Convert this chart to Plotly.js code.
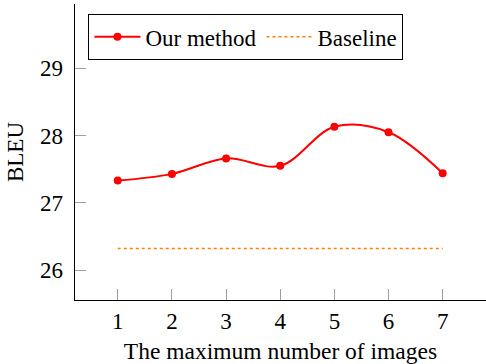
<!DOCTYPE html>
<html>
<head>
<meta charset="utf-8">
<script src="https://cdn.plot.ly/plotly-3.0.1.min.js"></script>
<style>html,body{margin:0;padding:0;background:#fff;}#chart{width:486px;height:364px;}</style>
</head>
<body>
<div id="chart"></div>
<script>
const imageCounts = [1, 2, 3, 4, 5, 6, 7];
const ourMethod = [27.33, 27.43, 27.66, 27.55, 28.13, 28.05, 27.44];
const baseline = [26.32, 26.32, 26.32, 26.32, 26.32, 26.32, 26.32];
const seriesNames = ["Our method", "Baseline"];
const yTicks = [26, 27, 28, 29];

const FONT = "'Liberation Serif', 'Times New Roman', serif";
const FS = 23;

const traces = [
  {
    x: imageCounts, y: ourMethod, name: seriesNames[0],
    type: "scatter", mode: "lines+markers",
    line: {color: "#ff0000", width: 2, shape: "spline", smoothing: 1},
    marker: {color: "#ff0000", size: 8, symbol: "circle"}
  },
  {
    x: imageCounts, y: baseline, name: seriesNames[1],
    type: "scatter", mode: "lines",
    line: {color: "#ff8000", width: 1.6, dash: "dot"}
  }
];

const layout = {
  width: 486, height: 364,
  margin: {l: 75, r: 0, t: 4, b: 64},
  paper_bgcolor: "#fff", plot_bgcolor: "#fff",
  font: {family: FONT, size: FS, color: "#000"},
  showlegend: true,
  legend: {
    orientation: "h", x: 0.032, y: 0.966, xanchor: "left", yanchor: "top",
    bordercolor: "#000", borderwidth: 1.3, bgcolor: "#fff",
    font: {family: FONT, size: FS, color: "#000"},
    itemwidth: 46, tracegroupgap: 0
  },
  xaxis: {
    range: [0.21, 7.8], tickvals: imageCounts, ticktext: imageCounts.map(String),
    showgrid: false, zeroline: false,
    showline: true, linecolor: "#000", linewidth: 1.4,
    ticks: "inside", ticklen: 11, tickcolor: "#a0a0a0", tickwidth: 1,
    tickfont: {family: FONT, size: FS, color: "#000"},
    ticklabelstandoff: 0,
    title: {text: "The maximum number of images", font: {family: FONT, size: FS + 0.5, color: "#000"}, standoff: 10}
  },
  yaxis: {
    range: [25.554, 29.957], tickvals: yTicks, ticktext: yTicks.map(String),
    showgrid: false, zeroline: false,
    showline: true, linecolor: "#000", linewidth: 1.4,
    ticks: "inside", ticklen: 11, tickcolor: "#a0a0a0", tickwidth: 1,
    tickfont: {family: FONT, size: FS, color: "#000"},
    ticklabelstandoff: 6,
    title: {text: "BLEU", font: {family: FONT, size: FS, color: "#000"}, standoff: 10}
  }
};

Plotly.newPlot("chart", traces, layout, {staticPlot: true, displayModeBar: false});
</script>
</body>
</html>
